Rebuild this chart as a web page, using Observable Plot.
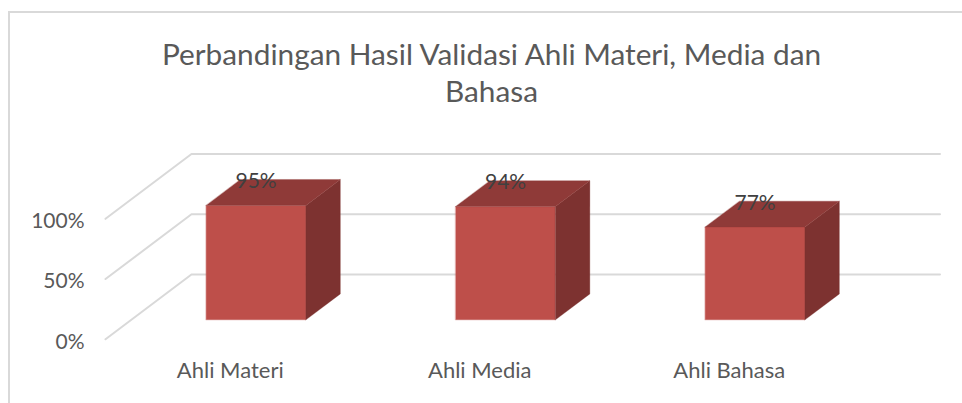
<!DOCTYPE html>
<html><head><meta charset="utf-8">
<script src="https://cdn.jsdelivr.net/npm/d3@7"></script>
<script src="https://cdn.jsdelivr.net/npm/@observablehq/plot@0.6"></script>
<style>
html,body{margin:0;padding:0;background:#fff;overflow:hidden}
#wrap{position:relative;width:962px;height:403px;overflow:hidden}
#frame{position:absolute;left:8px;top:11px;width:960px;height:420px;border:2px solid #d9d9d9;box-sizing:border-box}
#title{position:absolute;left:100px;width:783px;top:35px;text-align:center;font:29.8px/37px Lato,sans-serif;color:#595959}
svg{position:absolute;left:0;top:0}
</style></head><body>
<div id="wrap"><div id="frame"></div>
<div id="title">Perbandingan Hasil Validasi Ahli Materi, Media dan<br>Bahasa</div></div>
<script>
const categories = ["Ahli Materi","Ahli Media","Ahli Bahasa"];
const values = [95,94,77];
const labels = ["95%","94%","77%"];
const gridTicks = [0,50,100];
const barWidth = 0.4, depthX = 0.3445, depthY = 53.8, d0 = 0.3, d1 = 0.7;
const n = categories.length;
const px = (c,d)=>c+d*depthX, py=(v,d)=>v+d*depthY;
const pt = (c,v,d)=>({x:px(c,d),y:py(v,d)});
const face=(a)=>a.map(([c,v,d])=>pt(c,v,d));
const front=[],top_=[],side=[];
values.forEach((v,i)=>{
  const l=i+.5-barWidth/2,r=i+.5+barWidth/2;
  front.push(face([[l,0,d0],[r,0,d0],[r,v,d0],[l,v,d0]]));
  top_.push(face([[l,v,d0],[r,v,d0],[r,v,d1],[l,v,d1]]));
  side.push(face([[r,0,d0],[r,0,d1],[r,v,d1],[r,v,d0]]));
});
const grid=gridTicks.flatMap(t=>face([[0,t,0],[0,t,1],[n,t,1]]).map(p=>({...p,t})));
const poly=(arr,color)=>arr.map(f=>Plot.line(f,{x:"x",y:"y",fill:color,stroke:color,strokeWidth:.3,curve:"linear-closed"}));
const font="Lato, sans-serif";
const chart=Plot.plot({
  width:962,height:403,
  marginLeft:105,marginRight:22.5,marginTop:153.5,marginBottom:64.2,
  style:{background:"transparent",fontFamily:font},
  x:{domain:[0,n+depthX],axis:null},
  y:{domain:[0,100+depthY],axis:null},
  marks:[
    Plot.line(grid,{x:"x",y:"y",z:"t",stroke:"#d9d9d9",strokeWidth:2}),
    ...poly(front,"#be4f4a"),
    ...poly(side,"#7d3230"),
    ...poly(top_,"#8f3a38"),
    Plot.axisY({ticks:gridTicks,tickSize:0,tickPadding:21,tickFormat:d=>d+"%",fontSize:21,dy:2.5,fill:"#595959",color:"#595959",label:null}),
    Plot.text(categories,{x:(d,i)=>i+.5,y:()=>0,text:d=>d,dy:32,fontSize:22,fill:"#595959"}),
    Plot.text(labels,{x:(d,i)=>px(i+.5,d0),y:(d,i)=>py(values[i],d0),text:d=>d,dy:-24,fontSize:21,fill:"#404040"})
  ]
});
document.getElementById("wrap").appendChild(chart);
</script></body></html>
